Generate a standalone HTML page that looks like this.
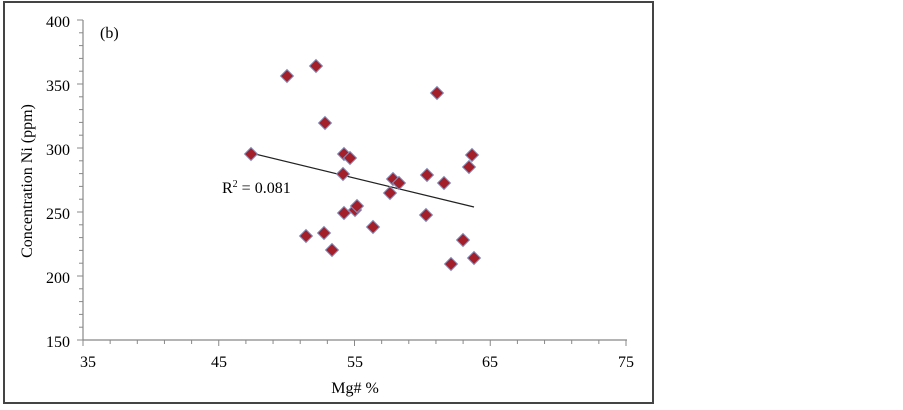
<!DOCTYPE html>
<html><head><meta charset="utf-8"><style>
html,body{margin:0;padding:0;background:#fff;}
text{font-family:"Liberation Serif",serif;fill:#000;}
</style></head><body>
<svg width="903" height="405" xmlns="http://www.w3.org/2000/svg">
<rect x="4" y="2" width="649" height="401" fill="#fff" stroke="#444" stroke-width="2"/>
<g stroke="#888" stroke-width="1.2">
<line x1="83" y1="20" x2="83" y2="340"/>
<line x1="83" y1="340" x2="627" y2="340"/>
</g>
<g stroke="#888" stroke-width="1" id="yt"></g>
<g stroke="#888" stroke-width="1" id="xt"></g>
<g font-size="16" text-anchor="end">
<text x="70" y="27">400</text><text x="70" y="91">350</text><text x="70" y="155">300</text>
<text x="70" y="219">250</text><text x="70" y="283">200</text><text x="70" y="347">150</text>
</g>
<g font-size="16" text-anchor="middle">
<text x="88" y="367">35</text><text x="219" y="367">45</text><text x="355" y="367">55</text>
<text x="490" y="367">65</text><text x="626" y="367">75</text>
</g>
<text x="355" y="393" font-size="16" text-anchor="middle">Mg# %</text>
<text transform="translate(32,181) rotate(-90)" font-size="16" text-anchor="middle">Concentration Ni (ppm)</text>
<text x="100" y="38" font-size="16">(b)</text>
<text x="222" y="193" font-size="16">R<tspan font-size="10" dy="-6">2</tspan><tspan dy="6"> = 0.081</tspan></text>
<line x1="251" y1="153" x2="474" y2="207" stroke="#222" stroke-width="1.2"/>
<g id="pts" fill="#a3202a" stroke="#8090c0" stroke-width="1"></g>
</svg>
<script>
var ns="http://www.w3.org/2000/svg";
var yt=document.getElementById('yt');
for(var v=150;v<=400;v+=10){var y=340-(v-150)*1.28;var l=document.createElementNS(ns,'line');l.setAttribute('x1',v%50==0?77:79);l.setAttribute('x2',83);l.setAttribute('y1',y);l.setAttribute('y2',y);yt.appendChild(l);}
var xt=document.getElementById('xt');
for(var v=35;v<=75;v+=2){var x=83+(v-35)*13.575;var l=document.createElementNS(ns,'line');l.setAttribute('x1',x);l.setAttribute('x2',x);l.setAttribute('y1',340);l.setAttribute('y2',(v-35)%10==0?346:344);xt.appendChild(l);}
var p=[[251,154],[287,76],[316,66],[325,123],[344,154],[350,158],[343,174],[393,179],[399,183],[390,193],[427,175],[444,183],[472,155],[469,167],[344,213],[355,210],[357,206],[373,227],[426,215],[437,93],[306,236],[324,233],[332,250],[463,240],[451,264],[474,258]];
var g=document.getElementById('pts');
p.forEach(function(q){var e=document.createElementNS(ns,'polygon');var x=q[0],y=q[1],r=6.5;e.setAttribute('points',(x)+','+(y-r)+' '+(x+r)+','+y+' '+x+','+(y+r)+' '+(x-r)+','+y);g.appendChild(e);});
</script>
</body></html>
